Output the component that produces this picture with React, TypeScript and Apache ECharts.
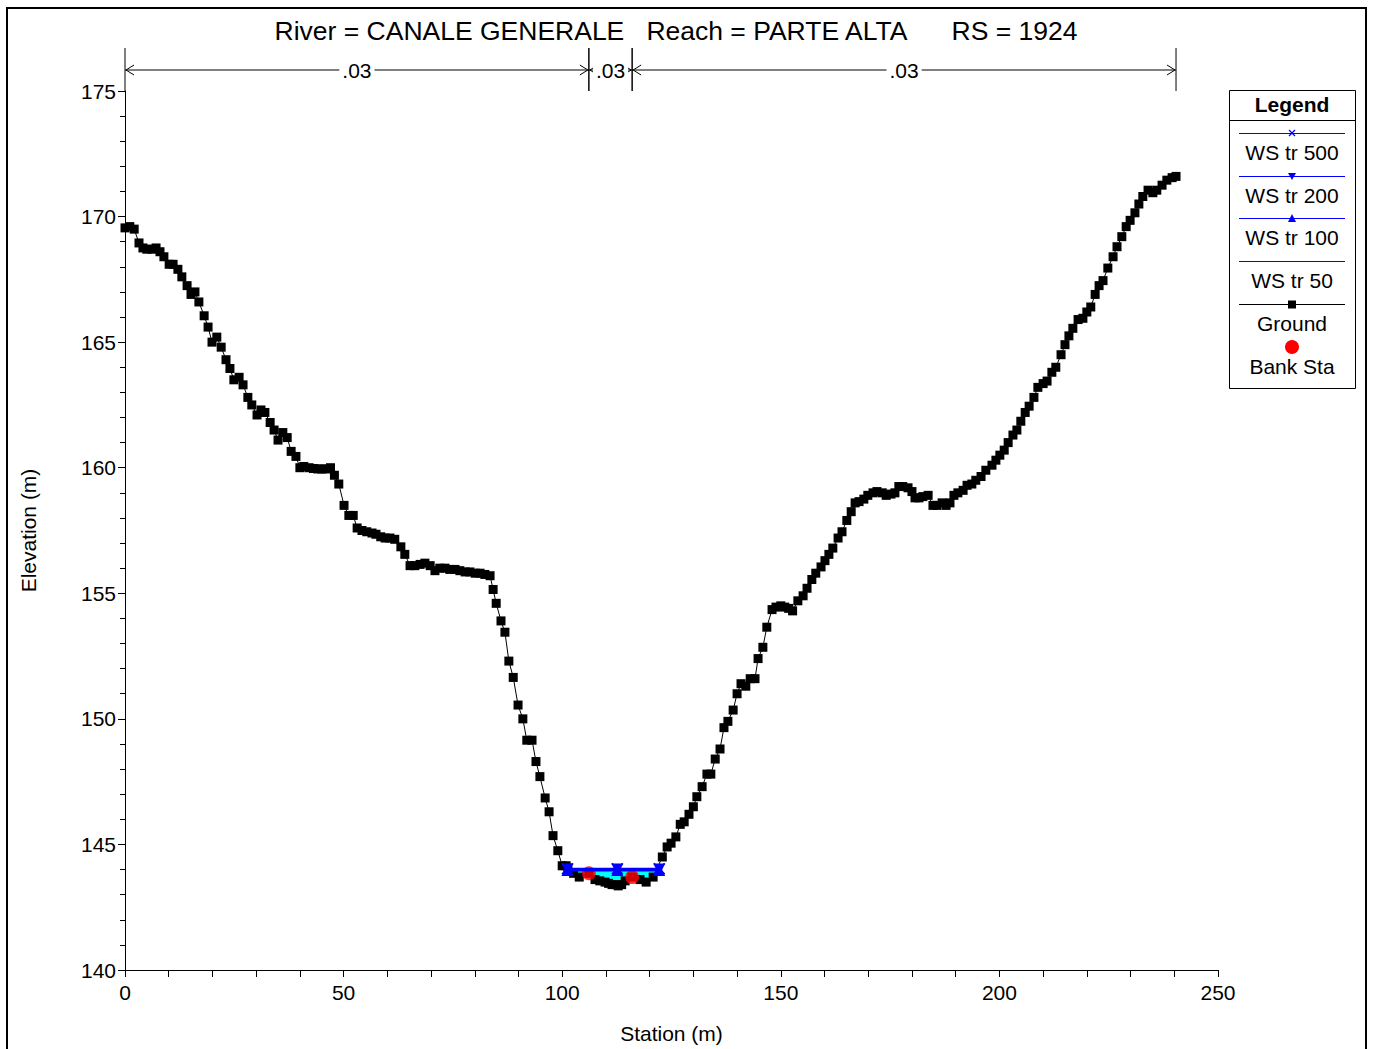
import React, { useEffect, useRef } from "react";
import * as echarts from "echarts";

const FONT = "'Liberation Sans', Arial, sans-serif";

const groundStation = [
  0.0, 1.1, 2.1, 3.2, 4.1, 5.0, 6.2, 7.1, 8.0, 8.9, 10.1, 11.0, 12.1, 13.0, 14.2, 15.1, 16.0, 16.9, 18.1, 19.0,
  19.9, 21.0, 22.0, 23.1, 24.0, 24.9, 26.1, 27.0, 28.1, 29.0, 30.2, 31.1, 32.0, 33.2, 34.1, 35.0, 36.1, 37.1, 38.0, 39.1,
  40.0, 40.9, 42.1, 43.1, 44.1, 45.0, 46.0, 47.0, 47.9, 48.9, 50.1, 51.2, 52.2, 53.1, 54.2, 55.3, 56.5, 57.4, 58.5, 59.5,
  60.6, 61.7, 63.1, 64.0, 65.2, 66.3, 67.5, 68.6, 69.8, 70.9, 72.0, 73.2, 74.3, 75.5, 76.6, 77.8, 78.9, 80.1, 81.2, 82.3,
  83.5, 84.2, 84.9, 86.0, 86.9, 87.8, 88.8, 89.9, 91.0, 91.9, 93.1, 94.0, 94.9, 96.1, 97.0, 97.9, 99.0, 100.0, 100.9, 101.3,
  102.6, 103.9, 106.1, 107.5, 108.6, 109.8, 110.6, 111.4, 112.2, 112.8, 113.6, 114.4, 116.0, 117.8, 119.2, 120.8, 122.9, 124.0, 124.9, 126.0,
  127.0, 127.9, 129.0, 130.0, 130.8, 132.0, 133.1, 134.0, 135.0, 136.1, 137.0, 137.9, 139.1, 140.0, 140.9, 142.0, 143.0, 144.1, 144.8, 145.9,
  146.8, 148.0, 148.9, 150.0, 150.9, 151.8, 152.7, 153.9, 155.1, 156.0, 157.1, 158.0, 159.2, 160.1, 161.0, 161.9, 163.1, 164.0, 165.1, 166.1,
  167.0, 167.9, 169.0, 169.9, 171.1, 172.0, 173.2, 174.1, 175.2, 176.1, 177.0, 177.9, 179.1, 180.0, 180.7, 181.6, 182.5, 183.7, 184.8, 185.7,
  186.9, 187.8, 188.7, 189.6, 190.5, 191.7, 192.6, 193.7, 194.6, 195.8, 196.9, 198.3, 199.2, 200.1, 201.1, 202.0, 203.1, 204.0, 204.9, 205.9,
  206.8, 207.9, 208.8, 210.0, 210.9, 212.0, 212.9, 214.1, 215.0, 215.9, 216.8, 218.0, 219.1, 220.0, 220.9, 221.9, 222.8, 223.7, 224.8, 226.0,
  226.9, 228.0, 229.0, 229.9, 231.0, 231.9, 232.8, 234.0, 235.1, 236.0, 237.2, 238.3, 239.5, 240.4,
];

const groundElev = [
  169.55, 169.6, 169.5, 168.95, 168.75, 168.7, 168.7, 168.75, 168.6, 168.4, 168.1, 168.1, 167.9, 167.6, 167.25, 166.9, 167.0, 166.6, 166.05, 165.6,
  165.0, 165.2, 164.8, 164.3, 163.95, 163.5, 163.6, 163.3, 162.8, 162.5, 162.1, 162.3, 162.2, 161.8, 161.5, 161.1, 161.4, 161.2, 160.65, 160.45,
  160.0, 160.05, 160.0, 159.97, 159.95, 159.95, 159.95, 160.0, 159.7, 159.35, 158.5, 158.1, 158.1, 157.6, 157.5, 157.45, 157.4, 157.35, 157.25, 157.2,
  157.2, 157.15, 156.85, 156.55, 156.1, 156.1, 156.15, 156.2, 156.1, 155.9, 156.0, 156.0, 155.95, 155.95, 155.9, 155.85, 155.85, 155.8, 155.8, 155.75,
  155.7, 155.15, 154.6, 153.9, 153.45, 152.3, 151.65, 150.55, 150.0, 149.15, 149.15, 148.3, 147.7, 146.85, 146.3, 145.35, 144.75, 144.15, 144.15, 144.05,
  143.85, 143.7, 143.85, 143.6, 143.55, 143.5, 143.45, 143.4, 143.4, 143.35, 143.4, 143.55, 143.7, 143.6, 143.5, 143.7, 144.5, 144.9, 145.05, 145.3,
  145.8, 145.9, 146.2, 146.5, 146.9, 147.3, 147.8, 147.8, 148.4, 148.8, 149.65, 149.9, 150.35, 151.0, 151.4, 151.3, 151.6, 151.6, 152.4, 152.85,
  153.65, 154.35, 154.45, 154.5, 154.45, 154.4, 154.3, 154.7, 154.9, 155.2, 155.55, 155.8, 156.05, 156.3, 156.55, 156.8, 157.2, 157.45, 157.9, 158.25,
  158.6, 158.65, 158.75, 158.9, 159.0, 159.05, 159.0, 158.9, 158.95, 159.0, 159.25, 159.25, 159.2, 159.05, 158.8, 158.8, 158.85, 158.9, 158.5, 158.5,
  158.6, 158.5, 158.6, 158.9, 159.0, 159.1, 159.3, 159.35, 159.5, 159.65, 159.9, 160.1, 160.3, 160.5, 160.7, 161.0, 161.3, 161.5, 161.85, 162.2,
  162.45, 162.8, 163.2, 163.35, 163.45, 163.8, 164.0, 164.5, 164.9, 165.25, 165.55, 165.9, 165.95, 166.2, 166.4, 166.9, 167.25, 167.45, 167.95, 168.4,
  168.8, 169.2, 169.6, 169.85, 170.15, 170.5, 170.8, 171.05, 170.95, 171.05, 171.25, 171.45, 171.55, 171.6,
];

const bankStation = [106.1, 116.0];
const bankElev = [143.85, 143.7];

const wsStation = [101.2, 112.6, 122.2];
const wsNames = ["WS tr 500", "WS tr 200", "WS tr 100", "WS tr 50"];
const wsElev = [144.03, 144.0, 143.98, 143.96];

const manningBreaks = [0, 106.1, 116.0, 240.4];
const manningN = [".03", ".03", ".03"];

const xTicks = { min: 0, max: 250, interval: 50 };
const yTicks = { min: 140, max: 175, interval: 5 };

const TITLE = "River = CANALE GENERALE\u00A0\u00A0\u00A0Reach = PARTE ALTA\u00A0\u00A0\u00A0\u00A0\u00A0\u00A0RS = 1924";

const CROSS = "path://M0,1L1,0L5,4L9,0L10,1L6,5L10,9L9,10L5,6L1,10L0,9L4,5Z";

export default function App() {
  const ref = useRef<HTMLDivElement>(null);

  useEffect(() => {
    if (!ref.current) return;
    const chart = echarts.init(ref.current, null, { renderer: "svg" });

    const ground = groundStation.map((s, i) => [s, groundElev[i]]);
    const wsFirst = wsStation[0];
    const wsLast = wsStation[wsStation.length - 1];
    const fillPts: number[][] = [[wsFirst, wsElev[1]]];
    ground.forEach((p) => {
      if (p[0] > wsFirst && p[0] < wsLast) fillPts.push(p);
    });
    fillPts.push([wsLast, wsElev[1]]);

    const manningData = manningN.map((n, i) => [manningBreaks[i], manningBreaks[i + 1], n]);

    const wsSymbols = [CROSS, "triangle", "triangle", "none"];
    const wsRot = [0, 180, 0, 0];

    const wsSeries = wsNames.map((name, k) => ({
      name,
      type: "line",
      data: wsStation.map((s) => [s, wsElev[k]]),
      symbol: wsSymbols[k],
      symbolRotate: wsRot[k],
      symbolSize: 12,
      showSymbol: k < 3,
      lineStyle: { color: "#0000ff", width: 2 },
      itemStyle: { color: "#0000ff" },
      z: 5,
    }));

    const LF = `21px ${FONT}`;
    const legendItems = [
      { y: 133, kind: "cross", color: "#0000ff", label: wsNames[0] },
      { y: 176, kind: "down", color: "#0000ff", label: wsNames[1] },
      { y: 218, kind: "up", color: "#0000ff", label: wsNames[2] },
      { y: 261, kind: "none", color: "#0000ff", label: wsNames[3] },
      { y: 304, kind: "square", color: "#000000", label: "Ground" },
    ];
    const legendGraphics: any[] = [
      { type: "rect", shape: { x: 1229.5, y: 90.5, width: 126, height: 298 }, style: { fill: "#fff", stroke: "#000", lineWidth: 1 } },
      { type: "line", shape: { x1: 1229.5, y1: 120.5, x2: 1355.5, y2: 120.5 }, style: { stroke: "#000", lineWidth: 1 } },
      { type: "text", x: 1292, y: 104, style: { text: "Legend", font: `bold 21px ${FONT}`, fill: "#000", align: "center", verticalAlign: "middle" } },
    ];
    legendItems.forEach((it) => {
      legendGraphics.push({ type: "line", shape: { x1: 1239, y1: it.y + 0.5, x2: 1345, y2: it.y + 0.5 }, style: { stroke: it.color, lineWidth: 1 } });
      if (it.kind === "cross") {
        legendGraphics.push({ type: "line", shape: { x1: 1289, y1: it.y - 3, x2: 1295, y2: it.y + 3 }, style: { stroke: it.color, lineWidth: 1.3 } });
        legendGraphics.push({ type: "line", shape: { x1: 1289, y1: it.y + 3, x2: 1295, y2: it.y - 3 }, style: { stroke: it.color, lineWidth: 1.3 } });
      } else if (it.kind === "down") {
        legendGraphics.push({ type: "polygon", shape: { points: [[1288, it.y - 3], [1296, it.y - 3], [1292, it.y + 4]] }, style: { fill: it.color } });
      } else if (it.kind === "up") {
        legendGraphics.push({ type: "polygon", shape: { points: [[1288, it.y + 4], [1296, it.y + 4], [1292, it.y - 4]] }, style: { fill: it.color } });
      } else if (it.kind === "square") {
        legendGraphics.push({ type: "rect", shape: { x: 1288, y: it.y - 3.5, width: 8, height: 8 }, style: { fill: "#000" } });
      }
      legendGraphics.push({ type: "text", x: 1292, y: it.y + 19, style: { text: it.label, font: LF, fill: "#000", align: "center", verticalAlign: "middle" } });
    });
    legendGraphics.push({ type: "circle", shape: { cx: 1292, cy: 347, r: 7 }, style: { fill: "#ff0000" } });
    legendGraphics.push({ type: "text", x: 1292, y: 366, style: { text: "Bank Sta", font: LF, fill: "#000", align: "center", verticalAlign: "middle" } });

    chart.setOption({
      animation: false,
      backgroundColor: "#ffffff",
      title: {
        text: TITLE,
        left: 671,
        top: 12,
        textAlign: "center",
        textStyle: { fontFamily: FONT, fontSize: 26.5, fontWeight: "normal", color: "#000" },
      },
      grid: { left: 125, top: 91, right: 156, bottom: 78, containLabel: false },
      xAxis: {
        type: "value",
        min: xTicks.min,
        max: xTicks.max,
        interval: xTicks.interval,
        name: "Station (m)",
        nameLocation: "middle",
        nameGap: 53,
        nameTextStyle: { fontFamily: FONT, fontSize: 21, color: "#000" },
        axisLine: { lineStyle: { color: "#000", width: 1 } },
        axisTick: { show: true, length: 7, lineStyle: { color: "#000" } },
        minorTick: { show: true, splitNumber: 5, length: 7, lineStyle: { color: "#000" } },
        axisLabel: { fontFamily: FONT, fontSize: 21, color: "#000", margin: 12 },
        splitLine: { show: false },
      },
      yAxis: {
        type: "value",
        min: yTicks.min,
        max: yTicks.max,
        interval: yTicks.interval,
        name: "Elevation (m)",
        nameLocation: "middle",
        nameGap: 86,
        nameTextStyle: { fontFamily: FONT, fontSize: 21, color: "#000" },
        axisLine: { show: true, lineStyle: { color: "#000", width: 1 } },
        axisTick: { show: true, length: 7, lineStyle: { color: "#000" } },
        minorTick: { show: true, splitNumber: 5, length: 5, lineStyle: { color: "#000" } },
        axisLabel: { fontFamily: FONT, fontSize: 21, color: "#000", margin: 9 },
        splitLine: { show: false },
      },
      graphic: [
        { type: "rect", shape: { x: 7, y: 8, width: 1359, height: 1060 }, style: { fill: "none", stroke: "#000", lineWidth: 2 }, z: 100 },
        ...legendGraphics,
      ],
      series: [
        {
          name: "water",
          type: "custom",
          coordinateSystem: "cartesian2d",
          data: [[wsFirst, wsElev[1]]],
          z: 1,
          renderItem: (params: any, api: any) => {
            const pts = fillPts.map((p) => api.coord(p));
            return { type: "polygon", shape: { points: pts }, style: { fill: "#00ffff" } };
          },
        },
        {
          name: "Ground",
          type: "line",
          data: ground,
          symbol: "rect",
          symbolSize: 9,
          lineStyle: { color: "#000", width: 1 },
          itemStyle: { color: "#000" },
          z: 3,
        },
        {
          name: "Bank Sta",
          type: "scatter",
          data: bankStation.map((s, i) => [s, bankElev[i]]),
          symbol: "circle",
          symbolSize: 14,
          itemStyle: { color: "#ff0000" },
          z: 4,
        },
        ...wsSeries,
        {
          name: "manning",
          type: "custom",
          coordinateSystem: "cartesian2d",
          data: manningData,
          clip: false,
          z: 6,
          renderItem: (params: any, api: any) => {
            const a = api.coord([api.value(0), yTicks.max]);
            const b = api.coord([api.value(1), yTicks.max]);
            const n = manningData[params.dataIndex][2] as string;
            const top = a[1] - 43;
            const ay = a[1] - 21;
            const mid = (a[0] + b[0]) / 2;
            const children: any[] = [
              { type: "line", shape: { x1: a[0], y1: top, x2: a[0], y2: a[1] }, style: { stroke: "#000", lineWidth: 1 } },
              { type: "line", shape: { x1: b[0], y1: top, x2: b[0], y2: a[1] }, style: { stroke: "#000", lineWidth: 1 } },
              { type: "line", shape: { x1: a[0], y1: ay, x2: b[0], y2: ay }, style: { stroke: "#000", lineWidth: 1 } },
              { type: "polyline", shape: { points: [[a[0] + 9, ay - 5], [a[0] + 1, ay], [a[0] + 9, ay + 5]] }, style: { stroke: "#000", lineWidth: 1, fill: "none" } },
              { type: "polyline", shape: { points: [[b[0] - 9, ay - 5], [b[0] - 1, ay], [b[0] - 9, ay + 5]] }, style: { stroke: "#000", lineWidth: 1, fill: "none" } },
              {
                type: "text",
                x: mid,
                y: ay,
                style: {
                  text: n,
                  font: `21px ${FONT}`,
                  fill: "#000",
                  align: "center",
                  verticalAlign: "middle",
                  backgroundColor: "#fff",
                  padding: [0, 3],
                },
              },
            ];
            return { type: "group", children };
          },
        },
      ],
    });

    return () => chart.dispose();
  }, []);

  return <div ref={ref} style={{ position: "fixed", left: 0, top: 0, width: 1374, height: 1049 }} />;
}
